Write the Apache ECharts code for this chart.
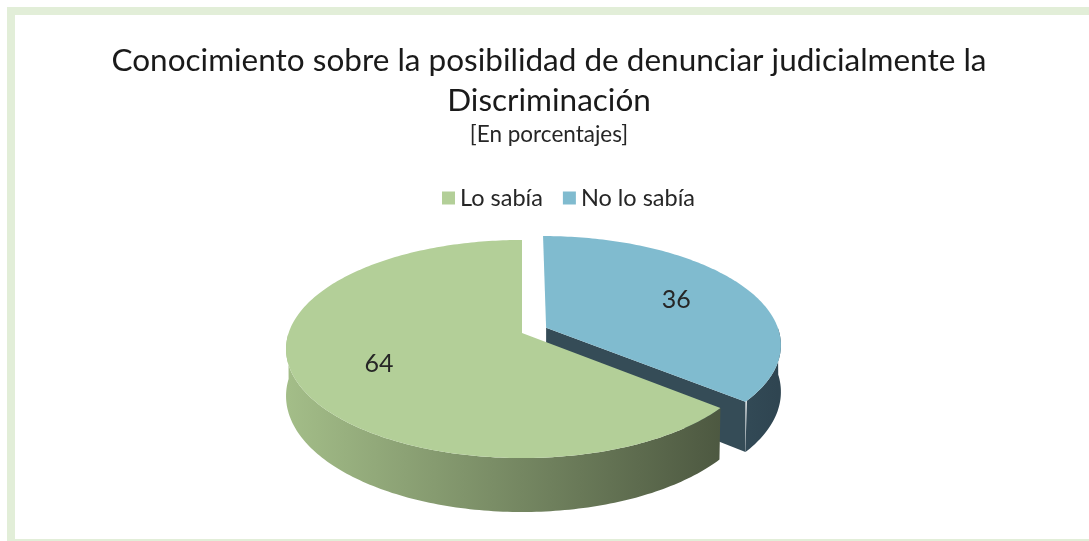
<!DOCTYPE html>
<html><head><meta charset="utf-8">
<script src="https://cdn.jsdelivr.net/npm/echarts@6/dist/echarts.min.js"></script>
<style>html,body{margin:0;padding:0;background:#fff}#c{width:1089px;height:541px}</style>
</head><body><div id="c"></div>
<script>
const categories = ['Lo sabía', 'No lo sabía'];
const values = [64, 36];
const explodedSlices = [0, 1];
const titleLines = ['Conocimiento sobre la posibilidad de denunciar judicialmente la', 'Discriminación'];
const subtitle = '[En porcentajes]';

const topColors = ['#b3cf98', '#80bbcf'];
const wallColors = [['#a3bd88', '#46503b'], ['#5f8798', '#2f4551']];
const faceColors = ['#46503b', '#354c57'];
const FONT = 'Lato';

// 3D-pie projection (perspective ellipse)
const P = { cx: 522, cy: 333, A: 233.4, B: 106.7, k: 0.147, D: 46, explode: 0.115 };
function proj(X, Z, h) {
  const w = 1 - P.k * Z;
  return [P.cx + P.A * X / w, P.cy + (P.B * Z + P.D * h) / w];
}
function pt(theta, r, off, h) {
  const t = theta * Math.PI / 180;
  return proj(off[0] + r * Math.sin(t), off[1] - r * Math.cos(t), h);
}

function makeRender(i) {
  return function (params, api) {
    const total = values.reduce((a, b) => a + b, 0);
    let cum = 0;
    for (let j = 0; j < i; j++) cum += values[j];
    const v = api.value(0);
    // slices laid counter-clockwise from 12 o'clock
    const a0 = 360 - (cum + v) / total * 360, a1 = 360 - cum / total * 360;
    const mid = (a0 + a1) / 2, mr = mid * Math.PI / 180;
    const e = explodedSlices[i] * P.explode;
    const off = [e * Math.sin(mr), -e * Math.cos(mr)];
    const children = [];
    const c0 = proj(off[0], off[1], 0), c1 = proj(off[0], off[1], 1);
    // radial faces
    if (Math.sin(a1 * Math.PI / 180) > 0.01) {
      const p0 = pt(a1, 1, off, 0), p1 = pt(a1, 1, off, 1);
      children.push({ type: 'polygon', z2: 1, shape: { points: [c0, p0, p1, c1] },
        style: { fill: faceColors[i] } });
    }
    if (-Math.sin(a0 * Math.PI / 180) > 0.01) {
      const p0 = pt(a0, 1, off, 0), p1 = pt(a0, 1, off, 1);
      children.push({ type: 'polygon', z2: 1, shape: { points: [c0, p0, p1, c1] },
        style: { fill: faceColors[i] } });
    }
    // outer wall (front half)
    const w0 = Math.max(a0, 90), w1 = Math.min(a1, 270);
    if (w1 > w0) {
      const st = Math.min(1, (w1 - w0) / 4);
      const pts = [];
      for (let t = w0; t <= w1 + 1e-6; t += st) pts.push(pt(t, 1, off, 0));
      for (let t = w1; t >= w0 - 1e-6; t -= st) pts.push(pt(t, 1, off, 1));
      const L = pt(270, 1, off, 0)[0], R = pt(90, 1, off, 0)[0];
      children.push({ type: 'polygon', z2: 2, shape: { points: pts },
        style: { fill: new echarts.graphic.LinearGradient(L, 0, R, 0,
          [{ offset: 0, color: wallColors[i][0] }, { offset: 1, color: wallColors[i][1] }], true) } });
    }
    // top face
    const tp = [c0];
    for (let t = a0; t <= a1 + 1e-6; t += 1) tp.push(pt(t, 1, off, 0));
    tp.push(pt(a1, 1, off, 0));
    children.push({ type: 'polygon', z2: 3, shape: { points: tp },
      style: { fill: topColors[i] } });
    // label
    const lp = pt(mid, 0.65, off, 0);
    children.push({ type: 'text', z2: 4, x: lp[0], y: lp[1],
      style: { text: String(v), fill: '#262626', font: '25px ' + FONT,
        textAlign: 'center', textVerticalAlign: 'middle' } });
    return { type: 'group', children };
  };
}

const series = categories.map((name, i) => ({
  type: 'custom', name, coordinateSystem: 'none', z: i === 0 ? 3 : 2,
  itemStyle: { color: topColors[i] },
  data: [values[i]],
  renderItem: makeRender(i),
  silent: true
}));

const chart = echarts.init(document.getElementById('c'), null, { renderer: 'canvas' });
chart.setOption({
  animation: false,
  backgroundColor: '#ffffff',
  legend: {
    data: categories, left: 437, top: 181, itemWidth: 13, itemHeight: 13, itemGap: 20,
    icon: 'rect', textStyle: { fontFamily: FONT, fontSize: 23.5, color: '#262626' }
  },
  graphic: [
    { type: 'rect', z: -1, shape: { x: 11, y: 11, width: 1100, height: 532 },
      style: { fill: 'none', stroke: '#e2eed8', lineWidth: 8 } },
    { type: 'text', x: 549, y: 61, style: { text: titleLines[0], font: '31.5px ' + FONT,
      fill: '#1a1a1a', textAlign: 'center', textVerticalAlign: 'middle' } },
    { type: 'text', x: 549, y: 101, style: { text: titleLines[1], font: '31.5px ' + FONT,
      fill: '#1a1a1a', textAlign: 'center', textVerticalAlign: 'middle' } },
    { type: 'text', x: 549, y: 135, style: { text: subtitle, font: '22.5px ' + FONT,
      fill: '#262626', textAlign: 'center', textVerticalAlign: 'middle' } }
  ],
  series
});
</script></body></html>
